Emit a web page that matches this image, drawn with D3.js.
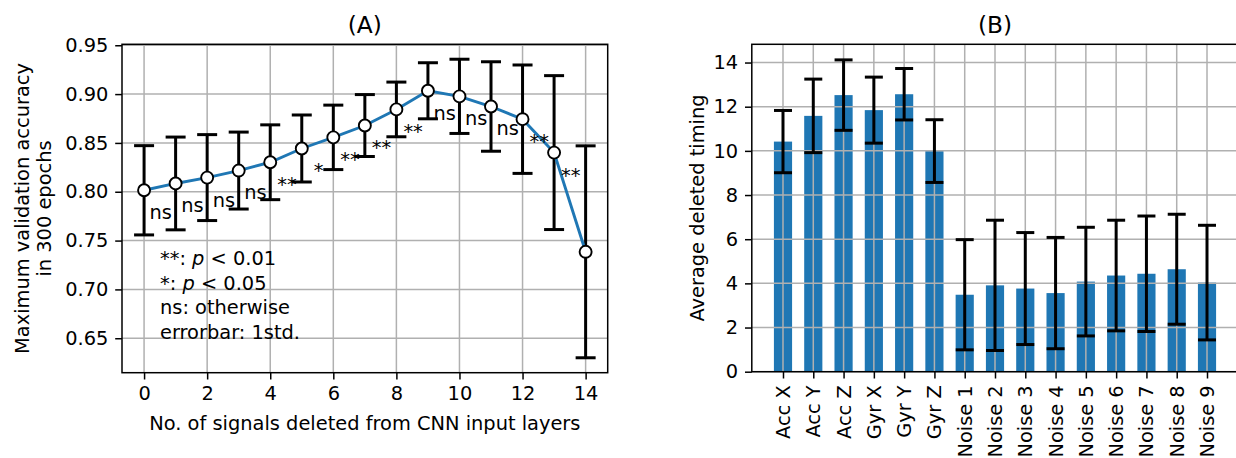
<!DOCTYPE html>
<html>
<head>
<meta charset="utf-8">
<script src="https://cdn.jsdelivr.net/npm/d3@7"></script>
<style>
  html, body { margin: 0; padding: 0; background: #fff; }
  svg { display: block; }
  text { font-family: "DejaVu Sans", sans-serif; fill: #000; }
</style>
</head>
<body>
<svg id="chart" width="1236" height="458"></svg>
<script>
// ---------- Data: panel (A) ----------
const nDeleted = [0, 1, 2, 3, 4, 5, 6, 7, 8, 9, 10, 11, 12, 13, 14];
const accMean  = [0.8015, 0.8085, 0.8145, 0.8217, 0.8302, 0.8443, 0.8557, 0.8678, 0.8843, 0.9034, 0.8977, 0.8873, 0.8743, 0.8401, 0.7385];
const accStd   = [0.0457, 0.0475, 0.0440, 0.0394, 0.0383, 0.0343, 0.0330, 0.0317, 0.0280, 0.0287, 0.0380, 0.0458, 0.0555, 0.0788, 0.1085];
const sigLabels = ["ns", "ns", "ns", "ns", "**", "*", "**", "**", "**", "ns", "ns", "ns", "**", "**"];
const xTicksA = [0, 2, 4, 6, 8, 10, 12, 14];
const yTicksA = [0.65, 0.70, 0.75, 0.80, 0.85, 0.90, 0.95];
const legendLines = ["**: ", "*: ", "ns: otherwise", "errorbar: 1std."];

// ---------- Data: panel (B) ----------
const signals   = ["Acc X", "Acc Y", "Acc Z", "Gyr X", "Gyr Y", "Gyr Z", "Noise 1", "Noise 2", "Noise 3", "Noise 4", "Noise 5", "Noise 6", "Noise 7", "Noise 8", "Noise 9"];
const timingMean = [10.42, 11.585, 12.525, 11.845, 12.565, 9.99, 3.485, 3.91, 3.765, 3.56, 4.08, 4.355, 4.435, 4.64, 4.035];
const timingStd  = [1.41, 1.665, 1.595, 1.495, 1.165, 1.42, 2.495, 2.95, 2.535, 2.52, 2.46, 2.505, 2.615, 2.49, 2.595];
const yTicksB = [0, 2, 4, 6, 8, 10, 12, 14];

// ---------- Style ----------
const FS = 19.4;
const FS_TITLE = 23.3;
const BLUE = "#1f77b4";
const GRID = "#b0b0b0";
const TICK = 6.8, PAD = 6.8;

const svg = d3.select("#chart");

// =================== Panel A ===================
const A = { left: 122, right: 607.7, top: 44.3, bottom: 372.7 };
const loA = d3.min(accMean, (m, i) => m - accStd[i]);
const hiA = d3.max(accMean, (m, i) => m + accStd[i]);
const padA = 0.05 * (hiA - loA);
const xA = d3.scaleLinear().domain([-0.7, 14.7]).range([A.left, A.right]);
const yA = d3.scaleLinear().domain([loA - padA, hiA + padA]).range([A.bottom, A.top]);

const gA = svg.append("g");
// grid
gA.append("g").selectAll("line").data(xTicksA).join("line")
  .attr("x1", d => xA(d)).attr("x2", d => xA(d)).attr("y1", A.top).attr("y2", A.bottom)
  .attr("stroke", GRID).attr("stroke-width", 1.5);
gA.append("g").selectAll("line").data(yTicksA).join("line")
  .attr("x1", A.left).attr("x2", A.right).attr("y1", d => yA(d)).attr("y2", d => yA(d))
  .attr("stroke", GRID).attr("stroke-width", 1.5);

// axes
const axBottomA = d3.axisBottom(xA).tickValues(xTicksA).tickSize(TICK).tickPadding(PAD).tickFormat(d3.format("d"));
const axLeftA = d3.axisLeft(yA).tickValues(yTicksA).tickSize(TICK).tickPadding(PAD).tickFormat(d3.format(".2f"));
function styleAxis(g) {
  g.select(".domain").remove();
  g.selectAll(".tick line").attr("stroke", "#000").attr("stroke-width", 1.5);
  g.selectAll(".tick text").attr("font-size", FS).attr("font-family", "DejaVu Sans").attr("fill", "#000");
}
gA.append("g").attr("transform", `translate(0,${A.bottom})`).call(axBottomA).call(styleAxis);
gA.append("g").attr("transform", `translate(${A.left},0)`).call(axLeftA).call(styleAxis);

// error bars
const capA = 10;
const eb = gA.append("g").attr("stroke", "#000").attr("stroke-width", 3);
nDeleted.forEach((n, i) => {
  const x = xA(n), y1 = yA(accMean[i] - accStd[i]), y2 = yA(accMean[i] + accStd[i]);
  eb.append("line").attr("x1", x).attr("x2", x).attr("y1", y1).attr("y2", y2);
  eb.append("line").attr("x1", x - capA).attr("x2", x + capA).attr("y1", y1).attr("y2", y1);
  eb.append("line").attr("x1", x - capA).attr("x2", x + capA).attr("y1", y2).attr("y2", y2);
});
// line
gA.append("path").datum(nDeleted)
  .attr("fill", "none").attr("stroke", BLUE).attr("stroke-width", 2.9)
  .attr("d", d3.line().x(d => xA(d)).y((d, i) => yA(accMean[i])));
// markers
gA.append("g").selectAll("circle").data(nDeleted).join("circle")
  .attr("cx", d => xA(d)).attr("cy", (d, i) => yA(accMean[i])).attr("r", 6)
  .attr("fill", "#fff").attr("stroke", "#000").attr("stroke-width", 1.9);

// significance labels
gA.append("g").selectAll("text").data(sigLabels).join("text")
  .attr("x", (d, i) => xA(nDeleted[i] + 0.53))
  .attr("y", (d, i) => yA(accMean[i] - 0.024))
  .attr("text-anchor", "middle").attr("dominant-baseline", "middle")
  .attr("font-size", FS).text(d => d);

// legend text block
const lg = gA.append("g");
const pVals = ["0.01", "0.05"];
legendLines.forEach((t, i) => {
  const tx = lg.append("text").attr("x", 160).attr("y", 265 + i * 24.5).attr("font-size", FS);
  tx.append("tspan").text(t);
  if (i < 2) {
    tx.append("tspan").attr("font-style", "italic").text("p");
    tx.append("tspan").text(" < " + pVals[i]);
  }
});

// spines
gA.append("rect").attr("x", A.left).attr("y", A.top).attr("width", A.right - A.left).attr("height", A.bottom - A.top)
  .attr("fill", "none").attr("stroke", "#000").attr("stroke-width", 1.5);

// title & labels
gA.append("text").attr("x", (A.left + A.right) / 2).attr("y", 33).attr("text-anchor", "middle")
  .attr("font-size", FS_TITLE).text("(A)");
gA.append("text").attr("x", (A.left + A.right) / 2).attr("y", 430).attr("text-anchor", "middle")
  .attr("font-size", FS).text("No. of signals deleted from CNN input layers");
const yl = gA.append("text").attr("transform", `translate(0,${(A.top + A.bottom) / 2}) rotate(-90)`)
  .attr("text-anchor", "middle").attr("font-size", FS);
yl.append("tspan").attr("x", 0).attr("y", 29).text("Maximum validation accuracy");
yl.append("tspan").attr("x", 0).attr("y", 50.5).text("in 300 epochs");

// =================== Panel B ===================
const B = { left: 751.8, right: 1238.2, top: 44.3, bottom: 371.7 };
const barW = 0.6;
const idx = signals.map((d, i) => i);
const mX = 0.05 * ((idx.length - 1) + barW);
const xB = d3.scaleLinear().domain([-barW / 2 - mX, idx.length - 1 + barW / 2 + mX]).range([B.left, B.right]);
const hiB = d3.max(timingMean, (m, i) => m + timingStd[i]);
const yB = d3.scaleLinear().domain([0, hiB * 1.05]).range([B.bottom, B.top]);

const gB = svg.append("g");
// bars
gB.append("g").selectAll("rect").data(timingMean).join("rect")
  .attr("x", (d, i) => xB(i - barW / 2)).attr("width", xB(barW) - xB(0))
  .attr("y", d => yB(d)).attr("height", d => yB(0) - yB(d)).attr("fill", BLUE);
// grid (above bars)
gB.append("g").selectAll("line").data(idx).join("line")
  .attr("x1", d => xB(d)).attr("x2", d => xB(d)).attr("y1", B.top).attr("y2", B.bottom)
  .attr("stroke", GRID).attr("stroke-width", 1.5);
gB.append("g").selectAll("line").data(yTicksB).join("line")
  .attr("x1", B.left).attr("x2", B.right).attr("y1", d => yB(d)).attr("y2", d => yB(d))
  .attr("stroke", GRID).attr("stroke-width", 1.5);
// error bars
const capB = 9;
const ebB = gB.append("g").attr("stroke", "#000").attr("stroke-width", 3);
idx.forEach(i => {
  const x = xB(i), y1 = yB(timingMean[i] - timingStd[i]), y2 = yB(timingMean[i] + timingStd[i]);
  ebB.append("line").attr("x1", x).attr("x2", x).attr("y1", y1).attr("y2", y2);
  ebB.append("line").attr("x1", x - capB).attr("x2", x + capB).attr("y1", y1).attr("y2", y1);
  ebB.append("line").attr("x1", x - capB).attr("x2", x + capB).attr("y1", y2).attr("y2", y2);
});
// axes
const axLeftB = d3.axisLeft(yB).tickValues(yTicksB).tickSize(TICK).tickPadding(PAD).tickFormat(d3.format("d"));
gB.append("g").attr("transform", `translate(${B.left},0)`).call(axLeftB).call(styleAxis);
const axBottomB = d3.axisBottom(xB).tickValues(idx).tickSize(TICK).tickFormat(i => signals[i]);
const gxB = gB.append("g").attr("transform", `translate(0,${B.bottom})`).call(axBottomB).call(styleAxis);
gxB.selectAll(".tick text")
  .attr("transform", `translate(0,${TICK + PAD}) rotate(-90)`)
  .attr("x", 0).attr("y", 0).attr("dy", null)
  .attr("text-anchor", "end").attr("dominant-baseline", "central");

// spines
gB.append("rect").attr("x", B.left).attr("y", B.top).attr("width", B.right - B.left).attr("height", B.bottom - B.top)
  .attr("fill", "none").attr("stroke", "#000").attr("stroke-width", 1.5);

gB.append("text").attr("x", (B.left + B.right) / 2).attr("y", 33).attr("text-anchor", "middle")
  .attr("font-size", FS_TITLE).text("(B)");
gB.append("text").attr("transform", `translate(704,${(B.top + B.bottom) / 2}) rotate(-90)`)
  .attr("text-anchor", "middle").attr("font-size", FS).text("Average deleted timing");
</script>
</body>
</html>
